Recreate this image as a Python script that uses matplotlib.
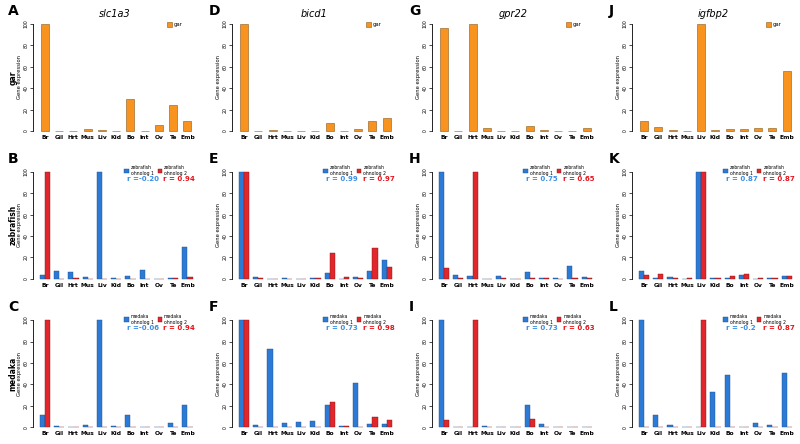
import matplotlib

matplotlib.use("Agg")
import matplotlib.pyplot as plt
import numpy as np
from matplotlib.patches import Patch

tissues = ["Br", "Gil", "Hrt", "Mus", "Liv", "Kid", "Bo", "Int", "Ov", "Te", "Emb"]
genes = ["slc1a3", "bicd1", "gpr22", "igfbp2"]
letters = ["ADGJ", "BEHK", "CFIL"]
species = ["gar", "zebrafish", "medaka"]

# gar (single copy)
gar_slc1a3 = [100, 0.3, 0.3, 1.8, 0.5, 0.3, 30, 0.3, 5.2, 24.5, 9.5]
gar_bicd1 = [100, 0.2, 0.5, 0.2, 0.2, 0.2, 7.5, 0.2, 2, 9, 12.4]
gar_gpr22 = [96.3, 0.3, 100, 2.8, 0.2, 0.2, 4.3, 1, 0.3, 0.3, 3]
gar_igfbp2 = [9.6, 3.7, 0.5, 0.3, 100, 0.5, 2.2, 1.9, 3.1, 2.5, 56]

# zebrafish ohnologs
zf1_slc1a3 = [3.4, 7.4, 6.2, 1.9, 100, 0.9, 2.2, 8, 0.3, 0.9, 29.7]
zf2_slc1a3 = [100, 0.3, 0.5, 0.3, 0.3, 0.3, 0.3, 0.3, 0.3, 0.5, 1.5]
zf1_bicd1 = [100, 1.5, 0.3, 0.7, 0.3, 0.6, 5.9, 0.3, 2, 7, 18]
zf2_bicd1 = [100, 1, 0.2, 0.3, 0.2, 0.8, 23.8, 1.8, 0.8, 29, 10.8]
zf1_gpr22 = [100, 3.7, 3.1, 0.3, 2.5, 0.2, 6.5, 0.7, 1.2, 12, 1.9]
zf2_gpr22 = [10, 1, 100, 0.3, 1, 0.3, 1, 0.5, 0.3, 1, 0.5]
zf1_igfbp2 = [7.7, 1, 1.9, 0.3, 100, 0.5, 0.8, 3.4, 0.3, 1, 2.8]
zf2_igfbp2 = [3.7, 4.6, 0.8, 1, 100, 0.5, 2.5, 4.3, 1, 1, 2.8]

# medaka ohnologs
md1_slc1a3 = [11.8, 1.5, 0.3, 2.2, 100, 1.5, 10.9, 0.3, 0.3, 3.7, 20.9]
md2_slc1a3 = [100, 0.3, 0.3, 0.3, 0.3, 0.3, 0.3, 0.3, 0.3, 0.3, 0.3]
md1_bicd1 = [100, 2.2, 72.9, 4, 5, 5.9, 20.9, 1.2, 40.8, 3.1, 3.1]
md2_bicd1 = [100, 0.3, 0.5, 0.3, 0.3, 0.3, 23.4, 1.2, 0.5, 9.3, 6.5]
md1_gpr22 = [100, 0.3, 0.3, 1.5, 0.2, 0.3, 20.6, 3.1, 0.2, 0.3, 0.5]
md2_gpr22 = [6.9, 0.3, 100, 0.3, 0.2, 0.5, 7.5, 0.3, 0.3, 0.5, 0.3]
md1_igfbp2 = [100, 11.2, 2.2, 0.3, 0.3, 33, 48.9, 0.3, 3.7, 2.2, 50.5]
md2_igfbp2 = [0.3, 0.3, 0.3, 0.3, 100, 0.3, 0.3, 0.3, 0.3, 0.3, 0.3]

zf_r1 = ["r =-0.20", "r = 0.99", "r = 0.75", "r = 0.87"]
zf_r2 = ["r = 0.94", "r = 0.97", "r = 0.65", "r = 0.87"]
md_r1 = ["r =-0.06", "r = 0.73", "r = 0.73", "r = -0.2"]
md_r2 = ["r = 0.94", "r = 0.98", "r = 0.63", "r = 0.87"]

ORANGE = "#f7931e"
BLUE = "#2b7bd6"
RED = "#e3262b"
R_BLUE = "#3a8ee6"
R_RED = "#e8141b"

gar_rows = [gar_slc1a3, gar_bicd1, gar_gpr22, gar_igfbp2]
zf_rows = [(zf1_slc1a3, zf2_slc1a3), (zf1_bicd1, zf2_bicd1),
           (zf1_gpr22, zf2_gpr22), (zf1_igfbp2, zf2_igfbp2)]
md_rows = [(md1_slc1a3, md2_slc1a3), (md1_bicd1, md2_bicd1),
           (md1_gpr22, md2_gpr22), (md1_igfbp2, md2_igfbp2)]

fig = plt.figure(figsize=(8, 4.44), dpi=100)
lefts = [0.041, 0.29, 0.54, 0.79]
bottoms = [0.705, 0.372, 0.038]
w, h = 0.204, 0.241
x = np.arange(len(tissues))


def style_axes(ax):
    ax.set_xlim(-0.85, 10.6)
    ax.set_ylim(0, 100)
    for s in ("top", "right", "bottom"):
        ax.spines[s].set_visible(False)
    ax.spines["left"].set_linewidth(0.6)
    ax.set_xticks(x)
    ax.set_xticklabels(tissues, fontsize=4.3, fontweight="bold")
    ax.tick_params(axis="x", length=0, pad=3)
    ax.set_yticks(range(0, 101, 20))
    ax.tick_params(axis="y", labelsize=3.3, length=2, width=0.5, pad=1)
    for lab in ax.get_yticklabels():
        lab.set_rotation(90)
        lab.set_va("center")
    ax.set_ylabel("Gene expression", fontsize=3.8, labelpad=1.5)


for row in range(3):
    for col in range(4):
        ax = fig.add_axes([lefts[col], bottoms[row], w, h])
        style_axes(ax)
        if row == 0:
            ax.bar(x, gar_rows[col], width=0.56, color=ORANGE,
                   edgecolor="#8a5a1e", linewidth=0.4, clip_on=False)
            ax.set_title(genes[col], fontsize=7, style="italic", pad=5)
            ax.legend(handles=[Patch(facecolor=ORANGE, edgecolor="#8a5a1e", linewidth=0.4, label="gar")],
                      loc="upper left", bbox_to_anchor=(0.8, 1.05), frameon=False,
                      fontsize=3.8, handlelength=0.9, handleheight=0.9, handletextpad=0.3,
                      borderpad=0.2)
        else:
            a, b = (zf_rows if row == 1 else md_rows)[col]
            r1 = (zf_r1 if row == 1 else md_r1)[col]
            r2 = (zf_r2 if row == 1 else md_r2)[col]
            sp = species[row]
            ax.bar(x - 0.18, a, width=0.36, color=BLUE, edgecolor="#1e4f8a",
                   linewidth=0.3, clip_on=False)
            ax.bar(x + 0.18, b, width=0.36, color=RED, edgecolor="#7a1a1a",
                   linewidth=0.3, clip_on=False)
            ax.legend(handles=[Patch(facecolor=BLUE, edgecolor="#1e4f8a", linewidth=0.3,
                                     label=f"{sp}\nohnolog 1"),
                               Patch(facecolor=RED, edgecolor="#7a1a1a", linewidth=0.3,
                                     label=f"{sp}\nohnolog 2")],
                      loc="upper left", bbox_to_anchor=(0.54, 1.09), ncol=2, frameon=False,
                      fontsize=3.3, handlelength=1.0, handleheight=1.0, handletextpad=0.4,
                      columnspacing=0.9, borderpad=0.2)
            ax.text(0.575, 0.93, r1, transform=ax.transAxes, color=R_BLUE,
                    fontsize=5, fontweight="bold", va="center")
            ax.text(0.80, 0.93, r2, transform=ax.transAxes, color=R_RED,
                    fontsize=5, fontweight="bold", va="center")
        fig.text((lefts[col] * 800 - 25 + (2 if col else 0)) / 800,
                 (bottoms[row] + h) + 0.03, letters[row][col],
                 fontsize=10, fontweight="bold", va="center", ha="left")
    fig.text(0.016, bottoms[row] + h / 2, species[row], rotation=90,
             fontsize=5.5, fontweight="bold", ha="center", va="center")

fig.savefig("out.png", dpi=100)
